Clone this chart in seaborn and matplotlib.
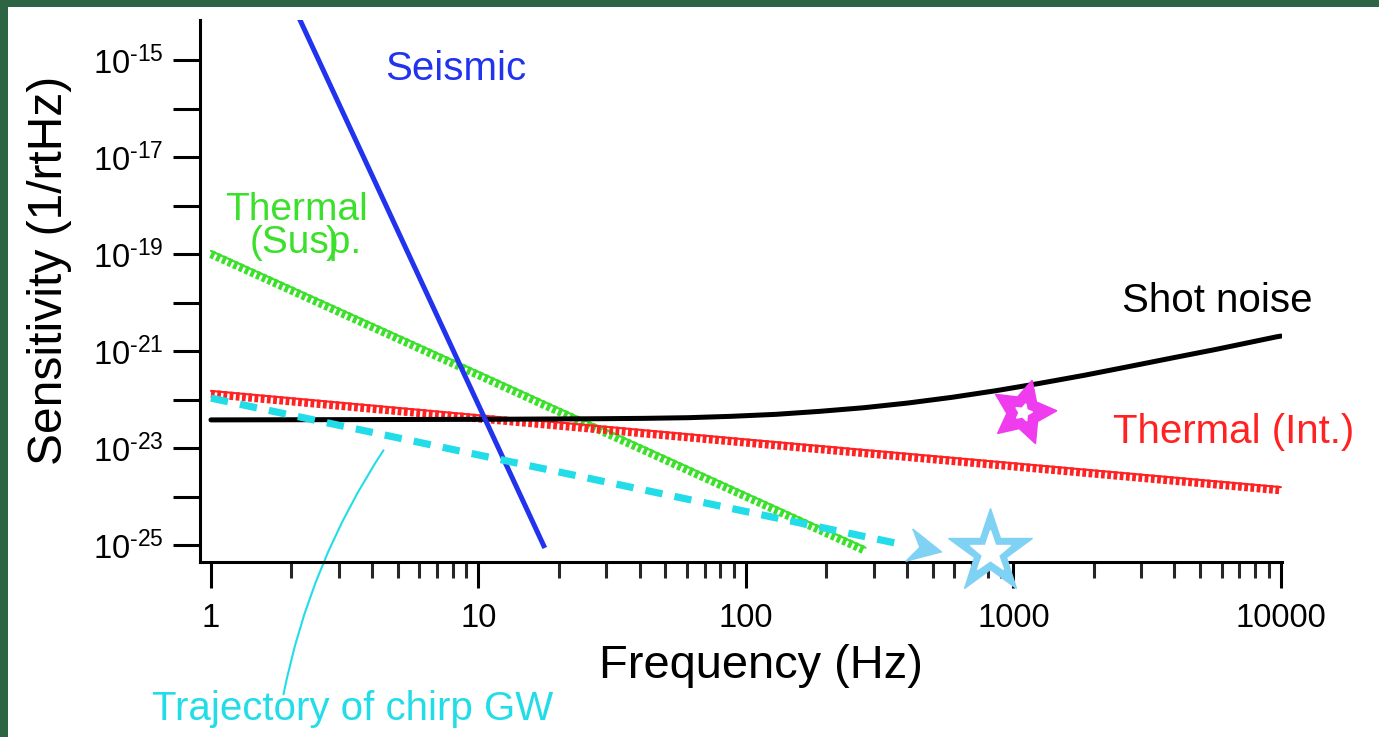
import numpy as np
import pandas as pd
import matplotlib
matplotlib.use("Agg")
import matplotlib.pyplot as plt
import seaborn as sns
from matplotlib.transforms import offset_copy
from matplotlib.patches import Rectangle
from matplotlib.ticker import FixedLocator, FixedFormatter, LogLocator, NullFormatter, NullLocator

# ---------------- data ----------------
seismic_f = [2.0, 17.7]
seismic_h = [1.6e-14, 8.7e-26]

susp_f = [1.0, 10.0, 100.0, 280.0]
susp_h = [1.0e-19, 3.2e-22, 1.0e-24, 7.6e-26]

int_f = [1.0, 10.0, 100.0, 1000.0, 10000.0]
int_h = [1.3e-22, 4.1e-23, 1.3e-23, 4.2e-24, 1.35e-24]

shot_f = [1.0, 10.0, 28.5, 41.6, 60.7, 88.7, 129.5, 189.0, 276.0, 403.0, 589.0,
          860.0, 1256.0, 1835.0, 2680.0, 3915.0, 5715.0, 9660.0, 10000.0]
shot_h = [3.8e-23, 3.9e-23, 4.02e-23, 4.09e-23, 4.22e-23, 4.51e-23, 4.95e-23, 5.71e-23,
          6.78e-23, 8.47e-23, 1.11e-22, 1.52e-22, 2.16e-22, 3.15e-22, 4.74e-22,
          7.18e-22, 1.08e-21, 1.97e-21, 2.03e-21]

chirp_f = [1.0, 10.0, 100.0, 393.0]
chirp_h = [1.07e-22, 7.2e-24, 4.9e-25, 1.0e-25]

arrow_f = [466.0]
arrow_h = [8.6e-26]
star_blue_f = [817.0]
star_blue_h = [7.2e-26]
star_mag_f = [1084.0]
star_mag_h = [5.5e-23]

xticks = [1, 10, 100, 1000, 10000]
xticklabels = ["1", "10", "100", "1000", "10000"]
yexps = list(range(-25, -14))

# ---------------- style ----------------
sns.set_theme(style="white")
plt.rcParams["font.family"] = ["Liberation Sans", "DejaVu Sans"]
plt.rcParams["mathtext.fontset"] = "custom"
plt.rcParams["mathtext.rm"] = "Liberation Sans"
plt.rcParams["mathtext.it"] = "Liberation Sans:italic"
plt.rcParams["mathtext.bf"] = "Liberation Sans:bold"

W, H = 1379, 737
fig = plt.figure(figsize=(W / 100, H / 100), dpi=100)
fig.patch.set_facecolor("#2d6444")
fig.patches.append(Rectangle((8 / W, 0), 1 - 8 / W, 1 - 7 / H, transform=fig.transFigure,
                             facecolor="white", edgecolor="none", zorder=-5))

def fx(x):
    return x / W

def fy(y):
    return 1 - y / H

ax = fig.add_axes([200 / W, 175 / H, 1082 / W, 542 / H])
ax.set_zorder(2)
ax.set_facecolor("none")
ax.set_xscale("log")
ax.set_yscale("log")
ax.set_xlim(10 ** -0.041, 10 ** 4.004)
ax.set_ylim(10 ** -25.35, 10 ** -14.175)

BLUE = "#2233ee"
GREEN = "#3ae02a"
RED = "#ff2222"
CYAN = "#22dde8"
SKY = "#80d2f5"
MAG = "#ee3cee"

# seismic
sns.lineplot(x=seismic_f, y=seismic_h, ax=ax, color=BLUE, lw=3.6, solid_capstyle="butt", zorder=4)

# hatched thermal lines
def hatched(xs, ys, color):
    sns.lineplot(x=xs, y=ys, ax=ax, color=color, lw=6.0, linestyle=(0, (0.45, 0.3)),
                 dash_capstyle="butt", zorder=3)
    ax.plot(xs, ys, color=color, lw=1.5, zorder=3,
            transform=offset_copy(ax.transData, fig=fig, y=2.2, units="points"))

hatched(susp_f, susp_h, GREEN)
hatched(int_f, int_h, RED)

# shot noise
sns.lineplot(x=shot_f, y=shot_h, ax=ax, color="black", lw=3.6, zorder=3)

# chirp trajectory
sns.lineplot(x=chirp_f, y=chirp_h, ax=ax, color=CYAN, lw=5.2, linestyle=(0, (2.4, 1.7)),
             dash_capstyle="butt", zorder=4)

# chevron arrow head
ang = np.deg2rad(-12)
chev = np.array([(-1.0, 1.0), (1.0, 0.0), (-1.0, -1.0), (-0.35, 0.0), (-1.0, 1.0)])
rot = np.array([[np.cos(ang), -np.sin(ang)], [np.sin(ang), np.cos(ang)]])
chev = chev @ rot.T
ax.plot(arrow_f, arrow_h, marker=chev, ms=28, color=SKY, mec=SKY, ls="none", zorder=6, clip_on=False)

# stars
ax.plot(star_blue_f, star_blue_h, marker="*", ms=64, color=SKY, mec=SKY, ls="none", zorder=7, clip_on=False)
ax.plot(star_blue_f, star_blue_h, marker="*", ms=31, color="white", mec="white", ls="none", zorder=8, clip_on=False)
ax.plot(star_mag_f, star_mag_h, marker=(5, 1, -15), ms=48, color=MAG, mec=MAG, ls="none", zorder=7)
ax.plot(star_mag_f, star_mag_h, marker=(5, 1, -15), ms=13, color="white", mec="white", ls="none", zorder=8)

# axes styling
for s in ["top", "right"]:
    ax.spines[s].set_visible(False)
for s in ["left", "bottom"]:
    ax.spines[s].set_color("black")
    ax.spines[s].set_linewidth(2.2)
    ax.spines[s].set_zorder(5)

ax.xaxis.set_major_locator(FixedLocator(xticks))
ax.xaxis.set_major_formatter(FixedFormatter(xticklabels))
ax.xaxis.set_minor_locator(LogLocator(base=10, subs=np.arange(2, 10)))
ax.xaxis.set_minor_formatter(NullFormatter())

yt = [10.0 ** e for e in yexps]
ylabs = [r"$\mathregular{10^{\text{-}%d}}$" % (-e) if e % 2 else "" for e in yexps]
ax.yaxis.set_major_locator(FixedLocator(yt))
ax.yaxis.set_major_formatter(FixedFormatter(ylabs))
ax.yaxis.set_minor_locator(NullLocator())

ax.tick_params(axis="x", which="major", direction="out", length=18.7, width=2.2, pad=11,
               labelsize=23.5, colors="black", bottom=True)
ax.tick_params(axis="x", which="minor", direction="out", length=11.5, width=2.2, bottom=True)
ax.tick_params(axis="y", which="major", direction="out", length=19.4, width=2.2, pad=7,
               labelsize=23.5, colors="black", left=True)

ax.set_xlabel("")
ax.set_ylabel("")

# axis labels
fig.text(fx(761), fy(678), "Frequency (Hz)", fontsize=33.8, ha="center", va="baseline", color="black")
fig.text(fx(50), fy(270), "Sensitivity (1/rtHz)", fontsize=34.5, ha="center", va="center",
         rotation=90, color="black")

# annotations
fig.text(fx(385), fy(80), "Seismic", fontsize=29, color=BLUE, va="baseline")
fig.text(fx(225), fy(220), "Thermal", fontsize=28, color=GREEN, va="baseline")
fig.text(fx(250), fy(253), "(Susp.", fontsize=28, color=GREEN, va="baseline")
fig.text(fx(326), fy(253), ")", fontsize=28, color=GREEN, va="baseline")
fig.text(fx(1122), fy(312), "Shot noise", fontsize=29, color="black", va="baseline")
fig.text(fx(1113), fy(443), "Thermal (Int.)", fontsize=29, color=RED, va="baseline")
fig.text(fx(152), fy(720), "Trajectory of chirp GW", fontsize=29, color=CYAN, va="baseline")

ax.annotate("", xy=(385, H - 448), xytext=(283, H - 697), xycoords="figure pixels",
            textcoords="figure pixels",
            arrowprops=dict(arrowstyle="-", color=CYAN, lw=1.5, connectionstyle="arc3,rad=-0.1"))

fig.savefig("out.png", dpi=100, facecolor=fig.get_facecolor())
